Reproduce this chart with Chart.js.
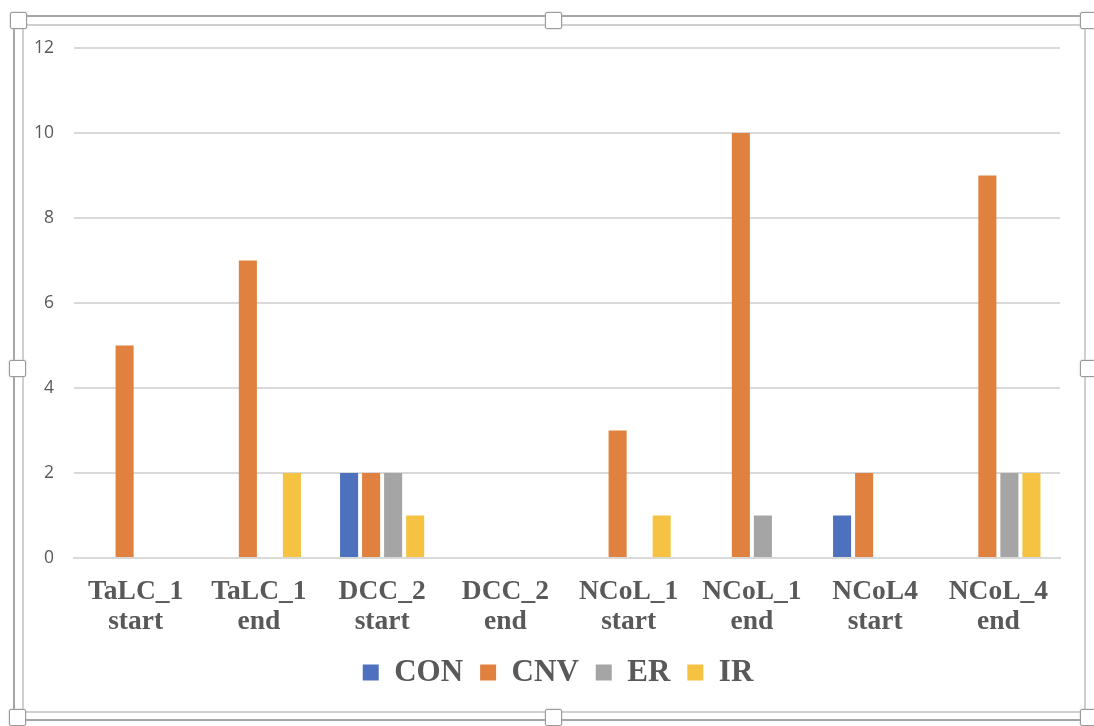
<!DOCTYPE html>
<html>
<head>
<meta charset="utf-8">
<script src="https://cdn.jsdelivr.net/npm/chart.js@4.4.1/dist/chart.umd.min.js"></script>
<style>
  html, body { margin: 0; padding: 0; background: #fff; }
  body { width: 1094px; height: 726px; position: relative; overflow: hidden; }
  .outer { position: absolute; left: 13px; top: 15px; width: 1072px; height: 706px; border: 2px solid #a6a6a6; box-sizing: border-box; }
  .inner { position: absolute; left: 22px; top: 24px; width: 1064px; height: 689px; border: 2px solid #cfcfcf; box-sizing: border-box; background: #fff; }
  .handle { position: absolute; width: 15px; height: 15px; background: #fff; border: 1px solid #9a9a9a; border-radius: 2px; box-shadow: 0 0 2px #bbb; }
  #wrap { position: absolute; left: 24px; top: 26px; width: 1060px; height: 685px; }
</style>
</head>
<body>
<div class="outer"></div>
<div class="inner"></div>
<div id="wrap"><canvas id="bars"></canvas></div>
<div class="handle" style="left:10px;top:12px"></div>
<div class="handle" style="left:545px;top:12px"></div>
<div class="handle" style="left:1080px;top:12px"></div>
<div class="handle" style="left:9px;top:360px"></div>
<div class="handle" style="left:1080px;top:360px"></div>
<div class="handle" style="left:545px;top:709px"></div>
<div class="handle" style="left:9px;top:709px"></div>
<div class="handle" style="left:1080px;top:709px"></div>
<script>
const categories = [
    ["TaLC_1", "start"], ["TaLC_1", "end"], ["DCC_2", "start"], ["DCC_2", "end"],
    ["NCoL_1", "start"], ["NCoL_1", "end"], ["NCoL4", "start"], ["NCoL_4", "end"]
];
const conValues = [0, 0, 2, 0, 0, 0, 1, 0];
const cnvValues = [5, 7, 2, 0, 3, 10, 2, 9];
const erValues  = [0, 0, 2, 0, 0, 1, 0, 2];
const irValues  = [0, 2, 1, 0, 1, 0, 0, 2];
const yTicks = [0, 2, 4, 6, 8, 10, 12];

function series(label, data, color) {
    return {
        label: label,
        data: data,
        backgroundColor: color,
        borderWidth: 0,
        categoryPercentage: 0.715,
        barPercentage: 0.82
    };
}

const ctx = document.getElementById("bars");

const chart = new Chart(ctx, {
    type: "bar",
    data: {
        labels: categories,
        datasets: [
            series("CON", conValues, "#4e71be"),
            series("CNV", cnvValues, "#e0813f"),
            series("ER", erValues, "#a5a5a5"),
            series("IR", irValues, "#f5c242")
        ]
    },
    options: {
        responsive: true,
        maintainAspectRatio: false,
        animation: false,
        layout: { padding: { top: 0, right: 0, left: 8, bottom: 13 } },
        plugins: {
            tooltip: { enabled: false },
            legend: {
                position: "bottom",
                labels: {
                    boxWidth: 16,
                    boxHeight: 16,
                    padding: 17,
                    color: "#595959",
                    font: { family: "Liberation Serif", size: 31, weight: "bold" }
                }
            }
        },
        scales: {
            x: {
                afterFit: function (scale) { scale.height = 82; },
                grid: { display: false, drawTicks: false },
                border: { display: true, color: "#d9d9d9", width: 2 },
                ticks: {
                    color: "#595959",
                    padding: 18,
                    maxRotation: 0,
                    font: { family: "Liberation Serif", size: 27.5, weight: "bold", lineHeight: 1.12 }
                }
            },
            y: {
                min: 0,
                max: 12,
                afterFit: function (scale) {
                    scale.width = 42;
                    scale.paddingTop = 22;
                    scale.paddingBottom = 0;
                },
                afterBuildTicks: function (scale) {
                    scale.ticks = yTicks.map(function (v) { return { value: v }; });
                },
                grid: { color: "#d9d9d9", lineWidth: 2, drawTicks: false },
                border: { display: false },
                ticks: {
                    color: "#595959",
                    padding: 20,
                    font: { family: "Open Sans", size: 17.5 }
                }
            },
            spacer: {
                type: "linear",
                position: "right",
                afterFit: function (scale) {
                    scale.width = 24;
                    scale.paddingTop = 0;
                    scale.paddingBottom = 0;
                },
                grid: { display: false },
                border: { display: false },
                ticks: { display: false }
            }
        }
    }
});
</script>
</body>
</html>
